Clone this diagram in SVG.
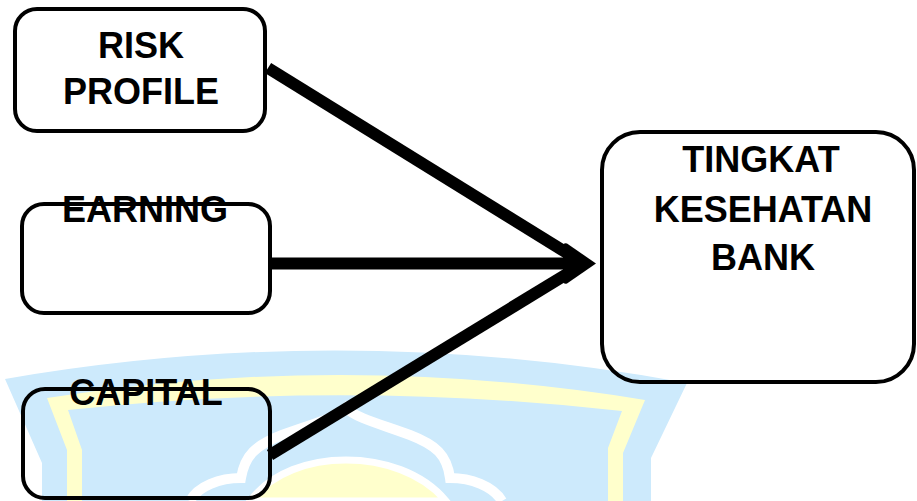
<svg xmlns="http://www.w3.org/2000/svg" width="917" height="501" viewBox="0 0 917 501">
  <style>
    .box { fill: none; stroke: #000; stroke-width: 4; }
    .lbl { font-family: "Liberation Sans", Arial, sans-serif; font-weight: bold; font-size: 36px; fill: #000; text-anchor: middle; }
    .conn { stroke: #000; stroke-width: 12; fill: none; }
  </style>
  <defs>
    <marker id="arrow" markerUnits="userSpaceOnUse" markerWidth="36" markerHeight="46" refX="4" refY="23" orient="auto">
      <path d="M2,6 Q2,2 6,3 L35,23 L6,43 Q2,44 2,40 Z" fill="#000"/>
    </marker>
  </defs>
  <rect width="917" height="501" fill="#fff"/>
  <g id="watermark">
    <path d="M5,379 Q346,320 687,383 L651,458 L651,501 L42,501 L42,463 Z" fill="#cdeafc"/>
    <path d="M47,398 Q346,351 645,400 L623,453 L623,501 L608,501 L608,448 L622,411 Q345,380 68,410 L82,450 L82,501 L67,501 L67,450 Z" fill="#ffffcc"/>
    <path d="M190,501 C198,486 220,478 241,478 C245,455 256,445 282,435 C312,424 336,418 346,408 C356,418 380,424 410,435 C436,445 447,455 450,478 C471,478 493,486 502,501" fill="none" stroke="#fff" stroke-width="10"/>
    <path d="M250,501 C272,472 310,460 346,460 C382,460 422,472 446,501 Z" fill="#ffffcc" stroke="#fff" stroke-width="7"/>
  </g>
  <g id="node-risk-profile">
    <rect class="box" x="15" y="9" width="250" height="122" rx="22"/>
    <text class="lbl" x="141" y="58">RISK</text>
    <text class="lbl" x="141" y="104">PROFILE</text>
  </g>
  <g id="node-earning">
    <rect class="box" x="22" y="204" width="248" height="109" rx="22"/>
    <text class="lbl" x="145" y="222">EARNING</text>
  </g>
  <g id="node-capital">
    <rect class="box" x="23" y="389" width="247" height="109" rx="22"/>
    <text class="lbl" x="146" y="405">CAPITAL</text>
  </g>
  <g id="node-tingkat-kesehatan-bank">
    <rect class="box" x="602" y="132" width="312" height="250" rx="38"/>
    <text class="lbl" x="761" y="172">TINGKAT</text>
    <text class="lbl" x="763" y="222">KESEHATAN</text>
    <text class="lbl" x="763" y="270">BANK</text>
  </g>
  <g id="connectors">
    <line class="conn" x1="268" y1="68" x2="580" y2="261"/>
    <line class="conn" x1="270" y1="455" x2="580" y2="266"/>
    <line class="conn" x1="270" y1="263.5" x2="565" y2="263.5" stroke-width="13" marker-end="url(#arrow)"/>
  </g>
</svg>
